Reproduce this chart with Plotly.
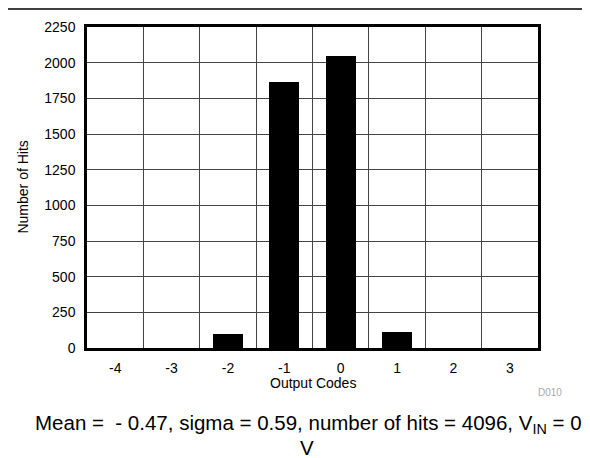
import plotly.graph_objects as go

# Data
codes = [-4, -3, -2, -1, 0, 1, 2, 3]
hits = [0, 0, 99, 1862, 2049, 111, 0, 0]
y_ticks = [0, 250, 500, 750, 1000, 1250, 1500, 1750, 2000, 2250]
grid_x = [-3.5, -2.5, -1.5, -0.5, 0.5, 1.5, 2.5]

FONT = "Liberation Sans, Arial, sans-serif"

fig = go.Figure()
fig.add_trace(go.Bar(
    x=codes, y=hits, width=0.53,
    marker=dict(color="black", line=dict(width=0)),
))

fig.update_layout(
    width=590, height=458,
    margin=dict(l=79, r=60, t=19, b=118),
    paper_bgcolor="white", plot_bgcolor="white",
    font=dict(family=FONT, size=14, color="black"),
    showlegend=False,
    bargap=0,
)

fig.update_xaxes(
    range=[-4.5, 3.5],
    tickmode="array", tickvals=codes, ticktext=[str(c) for c in codes],
    showgrid=False, zeroline=False,
    showline=True, linecolor="black", linewidth=2.5, mirror=True,
    ticks="", ticklabelstandoff=5,
    tickfont=dict(size=14),
    minor=dict(tickmode="array", tickvals=grid_x, showgrid=True,
               gridcolor="#444444", gridwidth=1, ticks=""),
)
fig.update_yaxes(
    range=[0, 2250],
    tickmode="array", tickvals=y_ticks,
    showgrid=True, gridcolor="#444444", gridwidth=1,
    zeroline=False,
    showline=True, linecolor="black", linewidth=2.5, mirror=True,
    ticks="", ticklabelstandoff=6,
    tickfont=dict(size=14),
)

# top rule line across the page
fig.add_shape(type="line", xref="paper", yref="paper",
              x0=-0.2, x1=1.2, y0=1.056, y1=1.056,
              line=dict(color="black", width=1.5))

fig.add_annotation(text="Output Codes", xref="paper", yref="paper",
                   x=0.5, y=-0.109, showarrow=False, yanchor="middle",
                   font=dict(size=14, color="black"))
fig.add_annotation(text="Number of Hits", xref="paper", yref="paper",
                   x=-0.144, y=0.5, showarrow=False, textangle=-90,
                   xanchor="center", yanchor="middle",
                   font=dict(size=14, color="black"))
fig.add_annotation(text="D010", xref="paper", yref="paper",
                   x=1.058, y=-0.140, showarrow=False,
                   xanchor="right", yanchor="middle",
                   font=dict(size=10, color="#aaaaaa"))
fig.add_annotation(text="Mean =  - 0.47, sigma = 0.59, number of hits = 4096, V<sub>IN</sub> = 0",
                   xref="paper", yref="paper", x=0.492, y=-0.236,
                   showarrow=False, yanchor="middle",
                   font=dict(size=20.5, color="black"))
fig.add_annotation(text="V", xref="paper", yref="paper", x=0.488, y=-0.31,
                   showarrow=False, yanchor="middle",
                   font=dict(size=20.5, color="black"))

fig.write_html("out.html")
